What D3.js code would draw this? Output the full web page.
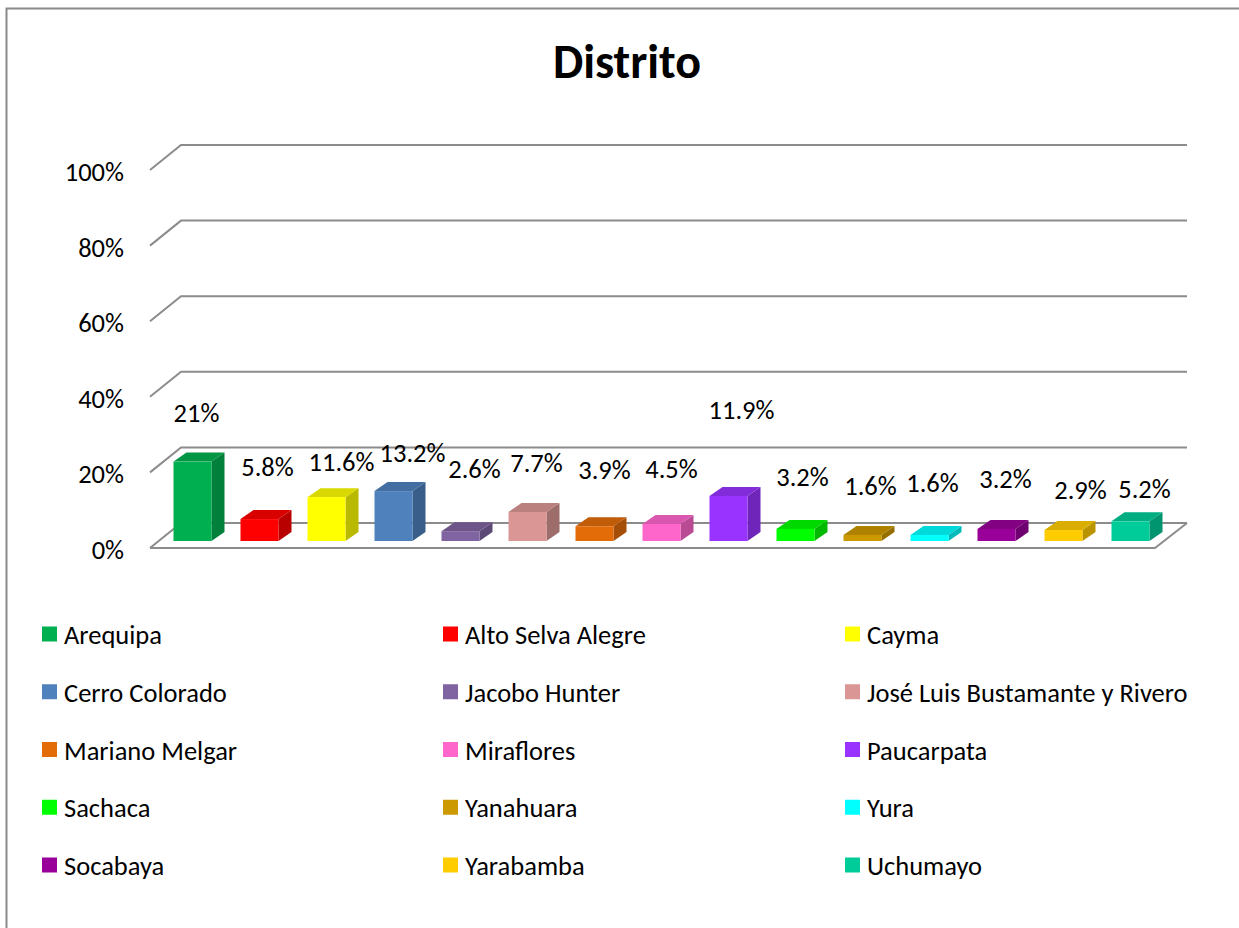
<!DOCTYPE html>
<html>
<head>
<meta charset="utf-8">
<script src="https://cdn.jsdelivr.net/npm/d3@7"></script>
<style>
  body { margin: 0; background: #fff; }
  text { font-family: Carlito, Lato, "Liberation Sans", sans-serif; fill: #000; }
</style>
</head>
<body>
<div id="chart"></div>
<script>
// data
var districts = ["Arequipa", "Alto Selva Alegre", "Cayma", "Cerro Colorado", "Jacobo Hunter",
  "José Luis Bustamante y Rivero", "Mariano Melgar", "Miraflores", "Paucarpata", "Sachaca",
  "Yanahuara", "Yura", "Socabaya", "Yarabamba", "Uchumayo"];
var shares = [0.21, 0.058, 0.116, 0.132, 0.026, 0.077, 0.039, 0.045, 0.119, 0.032,
  0.016, 0.016, 0.032, 0.029, 0.052];
var valueLabels = ["21%", "5.8%", "11.6%", "13.2%", "2.6%", "7.7%", "3.9%", "4.5%", "11.9%",
  "3.2%", "1.6%", "1.6%", "3.2%", "2.9%", "5.2%"];
var colors = ["#00B050", "#FF0000", "#FFFF00", "#4F81BD", "#8064A2", "#D99694", "#E36C09",
  "#FF66CC", "#9933FF", "#00FF00", "#CC9900", "#00FFFF", "#990099", "#FFCC00", "#00CC99"];
var ticks = [0, 0.2, 0.4, 0.6, 0.8, 1.0];

// label placement tweaks (excel puts 3d labels all over the place)
var labelDx = [4, 8, 15, 19, 14, 9, 10, 10, 13, 7, 8, 3, 9, 17, 14];
var labelDy = [-49, -52, -35, -38, -62, -49, -56, -55, -86, -52, -49, -52, -50, -40, -32];

var W = 1239, H = 928;
var fs = "26.5px";
var svg = d3.select("#chart").append("svg").attr("width", W).attr("height", H);

svg.append("rect").attr("x", 6.5).attr("y", 8.5).attr("width", W + 20).attr("height", H + 20)
  .attr("fill", "#fff").attr("stroke", "#8a8a8a").attr("stroke-width", 2);

svg.append("text").attr("x", 627).attr("y", 61).attr("text-anchor", "middle")
  .attr("dominant-baseline", "central").style("font-size", "48px").style("font-weight", "bold")
  .text("Distrito");

// front plane
var left = 150, right = 1155;
var wallDx = 31, wallDy = -25;
var y = d3.scaleLinear().domain([0, 1]).range([548, 170]);
var x = d3.scaleBand().domain(districts).range([left + 9, right + 9]).paddingInner(0).paddingOuter(0);
var barW = 38, barDx = 13, barDy = -9, barBase = -7;

var grid = svg.append("g").attr("stroke", "#8c8c8c").attr("stroke-width", 2).attr("fill", "none");
ticks.forEach(function (t) {
  grid.append("path").attr("d", "M" + left + "," + y(t) + "L" + (left + wallDx) + "," + (y(t) + wallDy)
    + "L" + (right + wallDx + 1) + "," + (y(t) + wallDy));
});
// floor front + right edge
grid.append("path").attr("d", "M" + left + "," + y(0) + "L" + right + "," + y(0)
  + "L" + (right + wallDx + 1) + "," + (y(0) + wallDy));

// axis labels
svg.append("g").selectAll("text").data(ticks).join("text")
  .attr("x", 124).attr("y", function (d) { return y(d) + 2; })
  .attr("text-anchor", "end").attr("dominant-baseline", "central").style("font-size", fs)
  .text(function (d) { return Math.round(d * 100) + "%"; });

// bars
var bars = svg.append("g").selectAll("g").data(districts).join("g");
bars.each(function (d, i) {
  var g = d3.select(this);
  var x0 = x(d) + (x.bandwidth() - barW) / 2, x1 = x0 + barW;
  var yb = y(0) + barBase, yt = y(shares[i]) + barBase;
  var c = d3.color(colors[i]);
  // side
  g.append("path").attr("d", "M" + x1 + "," + yb + "L" + x1 + "," + yt + "L" + (x1 + barDx) + "," + (yt + barDy)
    + "L" + (x1 + barDx) + "," + (yb + barDy) + "Z").attr("fill", c.darker(0.9));
  // top
  g.append("path").attr("d", "M" + x0 + "," + yt + "L" + x1 + "," + yt + "L" + (x1 + barDx) + "," + (yt + barDy)
    + "L" + (x0 + barDx) + "," + (yt + barDy) + "Z").attr("fill", c.darker(0.45));
  // front
  g.append("rect").attr("x", x0).attr("y", yt).attr("width", barW).attr("height", yb - yt).attr("fill", c);
  g.append("text").attr("x", x0 + barW / 2 + labelDx[i]).attr("y", yt + labelDy[i])
    .attr("text-anchor", "middle").attr("dominant-baseline", "central").style("font-size", fs)
    .text(valueLabels[i]);
});

// legend
var colX = [42, 443, 845];
var leg = svg.append("g").selectAll("g").data(districts).join("g")
  .attr("transform", function (d, i) {
    return "translate(" + colX[i % 3] + "," + (634 + Math.floor(i / 3) * 57.75) + ")";
  });
leg.append("rect").attr("x", 0).attr("y", -7.5).attr("width", 15).attr("height", 15)
  .attr("fill", function (d, i) { return colors[i]; });
leg.append("text").attr("x", 22).attr("y", 1).attr("dominant-baseline", "central")
  .style("font-size", fs).text(function (d) { return d; });
</script>
</body>
</html>
